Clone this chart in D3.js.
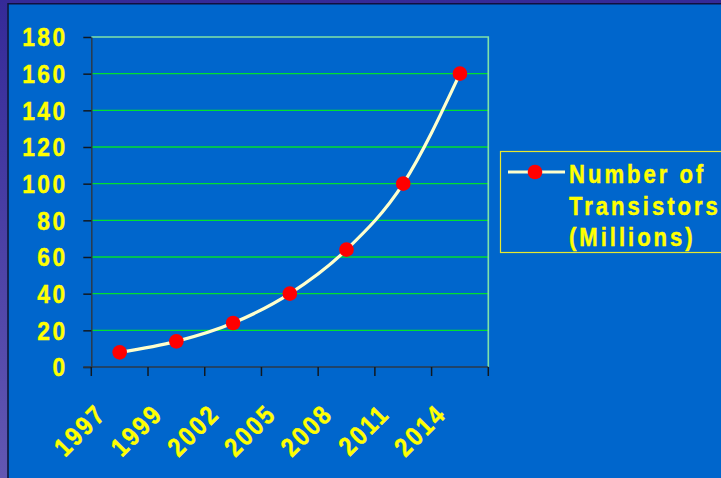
<!DOCTYPE html>
<html>
<head>
<meta charset="utf-8">
<script src="https://cdn.jsdelivr.net/npm/d3@7"></script>
<style>
  html, body { margin: 0; padding: 0; background: #0066CC; overflow: hidden; }
  svg { display: block; }
  text { font-family: "Liberation Sans", Arial, sans-serif; font-weight: bold; fill: #FFFF00;
         stroke: #FFFF00; stroke-width: 0.45px; }
</style>
</head>
<body>
<script>
// Transistor count per chip, in millions
const years = ["1997", "1999", "2002", "2005", "2008", "2011", "2014"];
const transistors = [8, 14, 24, 40, 64, 100, 160];
const yTicks = [0, 20, 40, 60, 80, 100, 120, 140, 160, 180];
const seriesName = ["Number of", "Transistors", "(Millions)"];

const W = 721, H = 478;
const svg = d3.select("body").append("svg").attr("width", W).attr("height", H);

// slide frame: purple strip left/top, dark edge, blue panel
const defs = svg.append("defs");
const grad = defs.append("linearGradient").attr("id", "frameGrad")
  .attr("x1", 0).attr("y1", 0).attr("x2", 0).attr("y2", 1);
grad.append("stop").attr("offset", "0%").attr("stop-color", "#352A98");
grad.append("stop").attr("offset", "100%").attr("stop-color", "#6257B2");
svg.append("rect").attr("width", W).attr("height", H).attr("fill", "url(#frameGrad)");
svg.append("rect").attr("x", 7.5).attr("y", 3).attr("width", W).attr("height", H)
  .attr("fill", "#0066CC");
svg.append("line").attr("x1", 8).attr("x2", 8).attr("y1", 3).attr("y2", H)
  .attr("stroke", "#101030").attr("stroke-width", 1.5);
svg.append("line").attr("x1", 8).attr("x2", W).attr("y1", 3.7).attr("y2", 3.7)
  .attr("stroke", "#101040").attr("stroke-width", 1.5);

// plot area
const plotL = 91.3, plotR = 488.3, plotT = 37, plotB = 367;
const x = d3.scaleBand().domain(years).range([plotL, plotR]);
const y = d3.scaleLinear().domain([0, 180]).range([plotB, plotT]);
const cx = d => x(d) + x.bandwidth() / 2;

// horizontal gridlines
svg.append("g").selectAll("line")
  .data(yTicks.filter(v => v > 0 && v < 180))
  .join("line")
  .attr("x1", plotL).attr("x2", plotR)
  .attr("y1", d => y(d)).attr("y2", d => y(d))
  .attr("stroke", "#00E030").attr("stroke-width", 1.4);

// top and right plot border
svg.append("path")
  .attr("d", `M${plotL},${y(180)}H${plotR}V${y(0)}`)
  .attr("fill", "none").attr("stroke", "#7FE3A8").attr("stroke-width", 1.6);

// left axis ticks and line
const yAxis = svg.append("g").attr("transform", `translate(${plotL},0)`)
  .call(d3.axisLeft(y).tickValues(yTicks).tickSize(8).tickSizeOuter(0).tickFormat(""));
yAxis.select(".domain").attr("stroke", "#2A3A4A").attr("stroke-width", 1.5);
yAxis.selectAll(".tick line").attr("stroke", "#101820").attr("stroke-width", 1.5);

// y labels
svg.append("g").selectAll("text")
  .data(yTicks)
  .join("text")
  .attr("transform", d => `translate(67.5,${y(d) + 9.3}) scale(0.86,1)`)
  .attr("text-anchor", "end")
  .attr("font-size", 26.5)
  .attr("letter-spacing", 2.8)
  .text(d => d);

// bottom axis line and boundary ticks
svg.append("line").attr("x1", plotL - 8).attr("x2", plotR)
  .attr("y1", plotB).attr("y2", plotB)
  .attr("stroke", "#2A3A4A").attr("stroke-width", 1.5);
svg.append("g").selectAll("line")
  .data(years.map(d => x(d)).concat([x.range()[1]]))
  .join("line")
  .attr("x1", d => d).attr("x2", d => d)
  .attr("y1", plotB).attr("y2", plotB + 9)
  .attr("stroke", "#101820").attr("stroke-width", 1.5);

// x labels, rotated
svg.append("g").selectAll("text")
  .data(years)
  .join("text")
  .attr("transform", d => `translate(${cx(d) - 12},${plotB + 48.3}) rotate(-45) scale(0.86,1)`)
  .attr("text-anchor", "end")
  .attr("font-size", 26.5)
  .attr("letter-spacing", 2.8)
  .text(d => d);

// smoothed series line and markers
const line = d3.line()
  .x((d, i) => cx(years[i]))
  .y(d => y(d))
  .curve(d3.curveMonotoneX);
svg.append("path").datum(transistors)
  .attr("d", line)
  .attr("fill", "none").attr("stroke", "#FFFFCC").attr("stroke-width", 3.2);
svg.append("g").selectAll("circle")
  .data(transistors)
  .join("circle")
  .attr("cx", (d, i) => cx(years[i]))
  .attr("cy", d => y(d))
  .attr("r", 7.3)
  .attr("fill", "#FF0000");

// legend
const lg = svg.append("g");
lg.append("rect").attr("x", 500.5).attr("y", 151.5).attr("width", 260).attr("height", 101)
  .attr("fill", "none").attr("stroke", "#E8E830").attr("stroke-width", 1.2);
lg.append("line").attr("x1", 508).attr("x2", 565).attr("y1", 172).attr("y2", 172)
  .attr("stroke", "#FFFFCC").attr("stroke-width", 3.2);
lg.append("circle").attr("cx", 535).attr("cy", 172).attr("r", 7.3).attr("fill", "#FF0000");
lg.selectAll("text")
  .data(seriesName)
  .join("text")
  .attr("transform", (d, i) => `translate(569,${183 + i * 31.7}) scale(0.85,1)`)
  .attr("font-size", 26)
  .attr("letter-spacing", 3.5)
  .text(d => d);
</script>
</body>
</html>
